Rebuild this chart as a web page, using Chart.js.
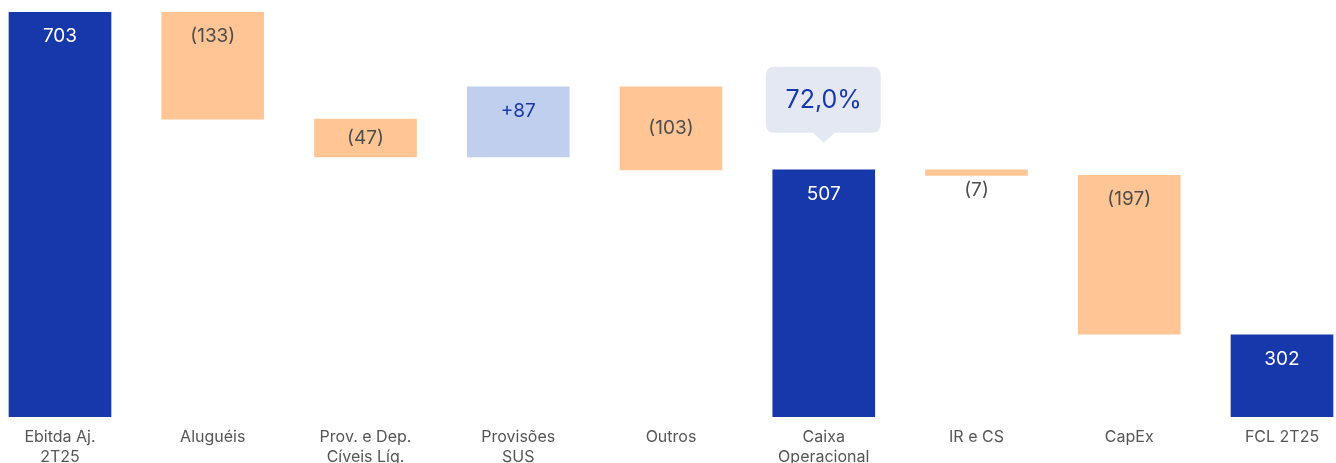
<!DOCTYPE html>
<html lang="pt-BR">
<head>
<meta charset="utf-8">
<title>Fluxo de caixa livre 2T25</title>
<script src="https://cdn.jsdelivr.net/npm/chart.js@4.4.1/dist/chart.umd.min.js"></script>
<style>
  html, body { margin: 0; padding: 0; background: #fff; }
  #wrap { width: 1336px; height: 463px; overflow: hidden; }
</style>
</head>
<body>
<div id="wrap"><canvas id="graficoFcl" width="1336" height="463"></canvas></div>
<script>
// Dados do gráfico (R$ milhões)
const categorias = [['Ebitda Aj.', '2T25'], 'Aluguéis', ['Prov. e Dep.', 'Cíveis Líq.'], ['Provisões', 'SUS'], 'Outros', ['Caixa', 'Operacional'], 'IR e CS', 'CapEx', 'FCL 2T25'];
const valores = [703, -133, -47, 87, -103, 507, -7, -197, 302];
const tipos = ['total', 'var', 'var', 'var', 'var', 'total', 'var', 'var', 'total'];
const posRotulo = ['topo', 'topo', 'meio', 'topo', 'meio', 'topo', 'abaixo', 'topo', 'topo'];
const margemCaixa = '72,0%';
const eixoMin = 200;
const eixoMax = 703;

const AZUL = '#1738aa';
const LARANJA = '#ffc594';
const AZUL_CLARO = '#c0cfee';
const CINZA = '#4d4d4d';
const FONTE = 'Inter, "Open Sans", sans-serif';

// Monta as barras flutuantes da cascata
let acumulado = 0;
const barras = valores.map((v, i) => {
  if (tipos[i] === 'total') {
    acumulado = v;
    return [0, v];
  }
  const ini = acumulado;
  acumulado += v;
  return [ini, acumulado];
});
const cores = valores.map((v, i) => tipos[i] === 'total' ? AZUL : (v < 0 ? LARANJA : AZUL_CLARO));

function textoRotulo(i) {
  const v = valores[i];
  if (tipos[i] === 'total') return String(v);
  return v < 0 ? '(' + Math.abs(v) + ')' : '+' + v;
}

// Rótulos de valor e o balão da margem
const pluginRotulos = {
  id: 'rotulos',
  afterDatasetsDraw(chart) {
    const ctx = chart.ctx;
    const meta = chart.getDatasetMeta(0);
    ctx.save();
    ctx.textAlign = 'center';
    ctx.textBaseline = 'middle';
    meta.data.forEach((el, i) => {
      const topo = Math.min(el.y, el.base);
      const fundo = Math.min(Math.max(el.y, el.base), chart.chartArea.bottom);
      let y = topo + 24;
      if (posRotulo[i] === 'meio') y = (topo + fundo) / 2;
      if (posRotulo[i] === 'abaixo') y = fundo + 15;
      ctx.font = '19px ' + FONTE;
      ctx.fillStyle = tipos[i] === 'total' ? '#ffffff' : (valores[i] < 0 ? CINZA : AZUL);
      ctx.fillText(textoRotulo(i), el.x, y);
    });

    // Balão acima do Caixa Operacional
    const el = meta.data[5];
    const topo = Math.min(el.y, el.base);
    const w = 115, h = 66, r = 9;
    const ponta = topo - 27;
    const baixo = ponta - 10;
    const esq = el.x - w / 2 - 0.5;
    const cima = baixo - h;
    ctx.fillStyle = '#e4e8f3';
    ctx.beginPath();
    ctx.moveTo(esq + r, cima);
    ctx.lineTo(esq + w - r, cima);
    ctx.quadraticCurveTo(esq + w, cima, esq + w, cima + r);
    ctx.lineTo(esq + w, baixo - r);
    ctx.quadraticCurveTo(esq + w, baixo, esq + w - r, baixo);
    ctx.lineTo(el.x + 11, baixo);
    ctx.lineTo(el.x, ponta);
    ctx.lineTo(el.x - 11, baixo);
    ctx.lineTo(esq + r, baixo);
    ctx.quadraticCurveTo(esq, baixo, esq, baixo - r);
    ctx.lineTo(esq, cima + r);
    ctx.quadraticCurveTo(esq, cima, esq + r, cima);
    ctx.closePath();
    ctx.fill();
    ctx.fillStyle = AZUL;
    ctx.font = '25px ' + FONTE;
    ctx.fillText(margemCaixa, el.x, cima + h / 2 + 1);
    ctx.restore();
  }
};

const ctx = document.getElementById('graficoFcl').getContext('2d');
new Chart(ctx, {
  type: 'bar',
  data: {
    labels: categorias,
    datasets: [{
      data: barras,
      backgroundColor: cores,
      borderWidth: 0,
      barThickness: 102,
      clip: { left: 60, top: 0, right: 60, bottom: 0 }
    }]
  },
  options: {
    responsive: false,
    animation: false,
    layout: { padding: { left: 60, right: 54, top: 12, bottom: 0 } },
    plugins: {
      legend: { display: false },
      tooltip: { enabled: false }
    },
    scales: {
      x: {
        offset: false,
        grid: { display: false, drawTicks: false },
        border: { display: false },
        ticks: {
          color: '#555555',
          padding: 10,
          autoSkip: false,
          maxRotation: 0,
          font: { family: FONTE, size: 16, lineHeight: '20px' }
        },
        afterFit(scale) { scale.height = 46; }
      },
      y: {
        display: false,
        min: eixoMin,
        max: eixoMax
      }
    }
  },
  plugins: [pluginRotulos]
});
</script>
</body>
</html>
